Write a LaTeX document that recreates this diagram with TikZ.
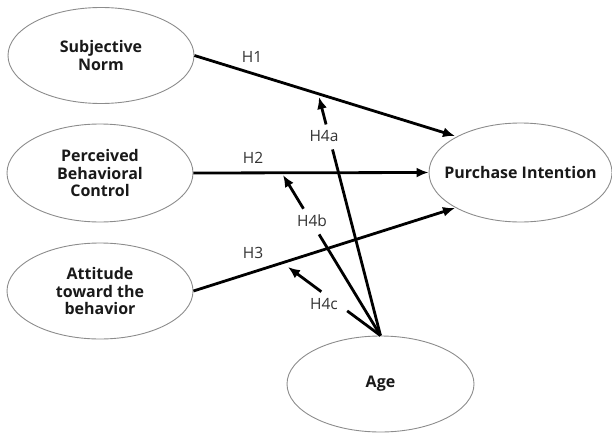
\documentclass[tikz,border=0pt]{standalone}
\usepackage{fontspec}
\setmainfont{Open Sans}
\usetikzlibrary{shapes.geometric,arrows.meta,calc}
\begin{document}
\begin{tikzpicture}[x=1pt,y=-1pt,
  construct/.style={ellipse,draw=black!45,line width=0.9pt,minimum width=186pt,minimum height=96pt,inner sep=0pt,align=center,font=\fontsize{16}{17.5}\selectfont\bfseries,text=black!90},
  hyp/.style={line width=2.8pt,-{Latex[length=12pt,width=10pt]}},
  seg/.style={line width=2.8pt},
  hlabel/.style={font=\fontsize{15.5}{17}\selectfont,text=black!80,inner sep=0pt}]
\useasboundingbox (0,0) rectangle (612,433);
\node[construct] (sn) at (101,55.5) {Subjective\\Norm};
\node[construct,minimum height=98pt] (pbc) at (100,173) {Perceived\\Behavioral\\Control};
\node[construct] (att) at (100,291) {Attitude\\toward the\\behavior};
\node[construct,minimum width=183pt,minimum height=99pt] (pi) at (520.5,172.5) {\makebox[0pt]{Purchase Intention}};
\node[construct,minimum width=187pt] (age) at (380.5,384) {Age};
\coordinate (pi1) at (455,136);
\coordinate (pi3) at (455,208);
\coordinate (t4a) at (319,97);
\coordinate (t4b) at (283,175);
\coordinate (t4c) at (288,267);
\draw[hyp] (sn.east) -- (pi1);
\draw[hyp] (pbc.east) -- (pi.west);
\draw[hyp] (att.east) -- (pi3);
\draw[seg] (age.north) -- ($(age.north)!0.78!(t4a)$);
\draw[hyp] ($(age.north)!0.885!(t4a)$) -- (t4a);
\draw[seg] (age.north) -- ($(age.north)!0.63!(t4b)$);
\draw[hyp] ($(age.north)!0.79!(t4b)$) -- (t4b);
\draw[seg] (age.north) -- ($(age.north)!0.36!(t4c)$);
\draw[hyp] ($(age.north)!0.64!(t4c)$) -- (t4c);
\node[hlabel] (h1) at (252,57) {H1};
\node[hlabel] (h2) at (253,158) {H2};
\node[hlabel] (h3) at (253,253) {H3};
\node[hlabel] (h4a) at (324,136) {H4a};
\node[hlabel] (h4b) at (312,221) {H4b};
\node[hlabel] (h4c) at (324,304) {H4c};
\end{tikzpicture}
\end{document}
